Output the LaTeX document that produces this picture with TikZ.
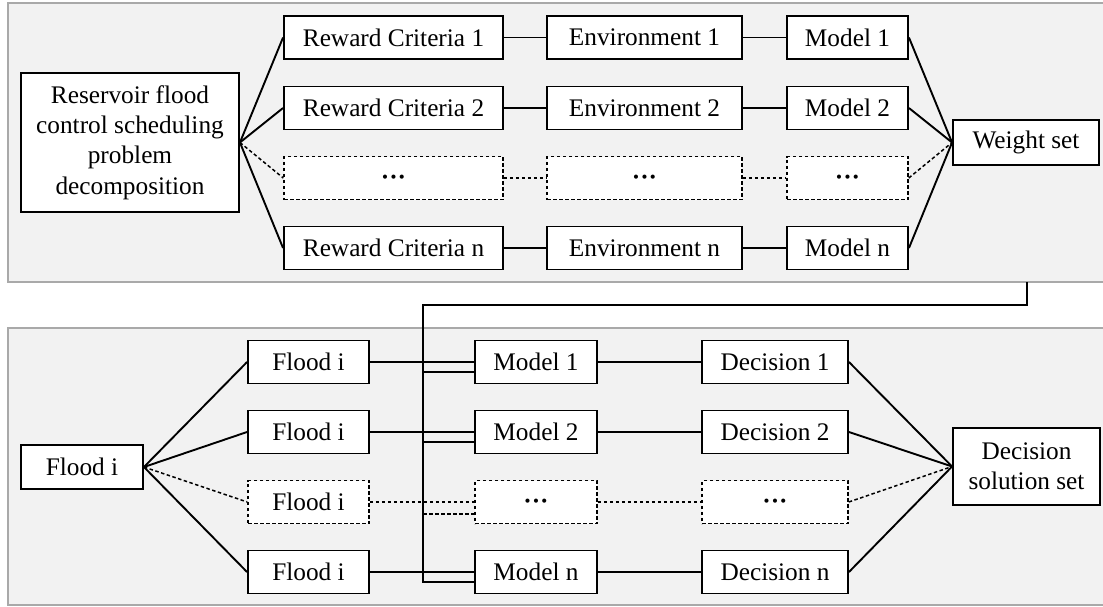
\documentclass[tikz,border=0pt]{standalone}
\usepackage{fontspec}
\setmainfont{Liberation Serif}
\definecolor{panelgray}{HTML}{A9A9A9}
\definecolor{panelfill}{HTML}{F2F2F2}
\newcommand{\mydots}{\raisebox{-7pt}[0pt][0pt]{\bfseries ···}}
\begin{document}
\begin{tikzpicture}[x=1pt,y=-1pt,
  box/.style={draw, line width=1.9pt, fill=white, inner sep=0pt, minimum height=43pt,
              font=\fontsize{25.3}{30.4}\selectfont, align=center},
  dbox/.style={box, line width=1.5pt, dash pattern=on 3.5pt off 2.5pt},
  ln/.style={line width=1.9pt},
  dln/.style={line width=1.5pt, dash pattern=on 3.5pt off 2.5pt},
  panel/.style={draw=panelgray, line width=2pt, fill=panelfill}]
\clip (0,0) rectangle (1103,606);
\fill[white] (0,0) rectangle (1103,606);
% panels
\draw[panel] (8,3) rectangle (1130,282);
\draw[panel] (8,328) rectangle (1130,605);

% ---------- top panel ----------
\node[box, minimum width=218pt, minimum height=139pt] (res) at (130,142.5)
  {Reservoir flood\\control scheduling\\problem\\decomposition};
\node[box, minimum width=219pt] (rc1) at (393.5,37.5) {Reward Criteria 1};
\node[box, minimum width=219pt] (rc2) at (393.5,108) {Reward Criteria 2};
\node[dbox, minimum width=219pt] (rc3) at (393.5,178) {\mydots};
\node[box, minimum width=219pt] (rcn) at (393.5,248) {Reward Criteria n};
\node[box, minimum width=195pt] (en1) at (644.5,37.5) {Environment 1};
\node[box, minimum width=195pt] (en2) at (644.5,108) {Environment 2};
\node[dbox, minimum width=195pt] (en3) at (644.5,178) {\mydots};
\node[box, minimum width=195pt] (enn) at (644.5,248) {Environment n};
\node[box, minimum width=121pt] (md1) at (847.5,37.5) {Model 1};
\node[box, minimum width=121pt] (md2) at (847.5,108) {Model 2};
\node[dbox, minimum width=121pt] (md3) at (847.5,178) {\mydots};
\node[box, minimum width=121pt] (mdn) at (847.5,248) {Model n};
\node[box, minimum width=146pt, minimum height=45pt] (ws) at (1026,142.5) {Weight set};

\draw[ln] (res.east) -- (rc1.west);
\draw[ln] (res.east) -- (rc2.west);
\draw[dln] (res.east) -- (rc3.west);
\draw[ln] (res.east) -- (rcn.west);
\draw[ln] (rc1) -- (en1);
\draw[ln] (rc2) -- (en2);
\draw[dln] (rc3) -- (en3);
\draw[ln] (rcn) -- (enn);
\draw[ln] (en1) -- (md1);
\draw[ln] (en2) -- (md2);
\draw[dln] (en3) -- (md3);
\draw[ln] (enn) -- (mdn);
\draw[ln] (md1.east) -- (ws.west);
\draw[ln] (md2.east) -- (ws.west);
\draw[dln] (md3.east) -- (ws.west);
\draw[ln] (mdn.east) -- (ws.west);

% ---------- bottom panel ----------
\node[box, minimum width=122pt, minimum height=44pt] (f0) at (82,467) {Flood i};
\node[box, minimum width=121pt] (f1) at (308.5,362) {Flood i};
\node[box, minimum width=121pt] (f2) at (308.5,432) {Flood i};
\node[dbox, minimum width=121pt] (f3) at (308.5,502) {Flood i};
\node[box, minimum width=121pt] (fn) at (308.5,572) {Flood i};
\node[box, minimum width=122pt] (m1) at (536,362) {Model 1};
\node[box, minimum width=122pt] (m2) at (536,432) {Model 2};
\node[dbox, minimum width=122pt] (m3) at (536,502) {\mydots};
\node[box, minimum width=122pt] (mn) at (536,572) {Model n};
\node[box, minimum width=146pt] (d1) at (775,362) {Decision 1};
\node[box, minimum width=146pt] (d2) at (775,432) {Decision 2};
\node[dbox, minimum width=146pt] (d3) at (775,502) {\mydots};
\node[box, minimum width=146pt] (dn) at (775,572) {Decision n};
\node[box, minimum width=147pt, minimum height=77pt] (dss) at (1026.5,466.5) {Decision\\solution set};

\draw[ln] (f0.east) -- (f1.west);
\draw[ln] (f0.east) -- (f2.west);
\draw[dln] (f0.east) -- (f3.west);
\draw[ln] (f0.east) -- (fn.west);
\draw[ln] (f1) -- (m1);
\draw[ln] (f2) -- (m2);
\draw[dln] (f3) -- (m3);
\draw[ln] (fn) -- (mn);
\draw[ln] (m1) -- (d1);
\draw[ln] (m2) -- (d2);
\draw[dln] (m3) -- (d3);
\draw[ln] (mn) -- (dn);
\draw[ln] (d1.east) -- (dss.west);
\draw[ln] (d2.east) -- (dss.west);
\draw[dln] (d3.east) -- (dss.west);
\draw[ln] (dn.east) -- (dss.west);

% ---------- feedback bus from top panel ----------
\coordinate (tp) at (1027,282);
\coordinate (tr) at (1027,305);
\coordinate (tl) at (423,305);
\coordinate (m1b) at ([yshift=-10pt]m1.west);
\coordinate (m2b) at ([yshift=-10pt]m2.west);
\coordinate (m3b) at ([yshift=-12pt]m3.west);
\coordinate (mnb) at ([yshift=-10pt]mn.west);
\draw[ln] (tp) -- (tr) -- (tl) |- (mnb);
\draw[ln] (m1b -| tl) -- (m1b);
\draw[ln] (m2b -| tl) -- (m2b);
\draw[dln] (m3b -| tl) -- (m3b);
\end{tikzpicture}
\end{document}
